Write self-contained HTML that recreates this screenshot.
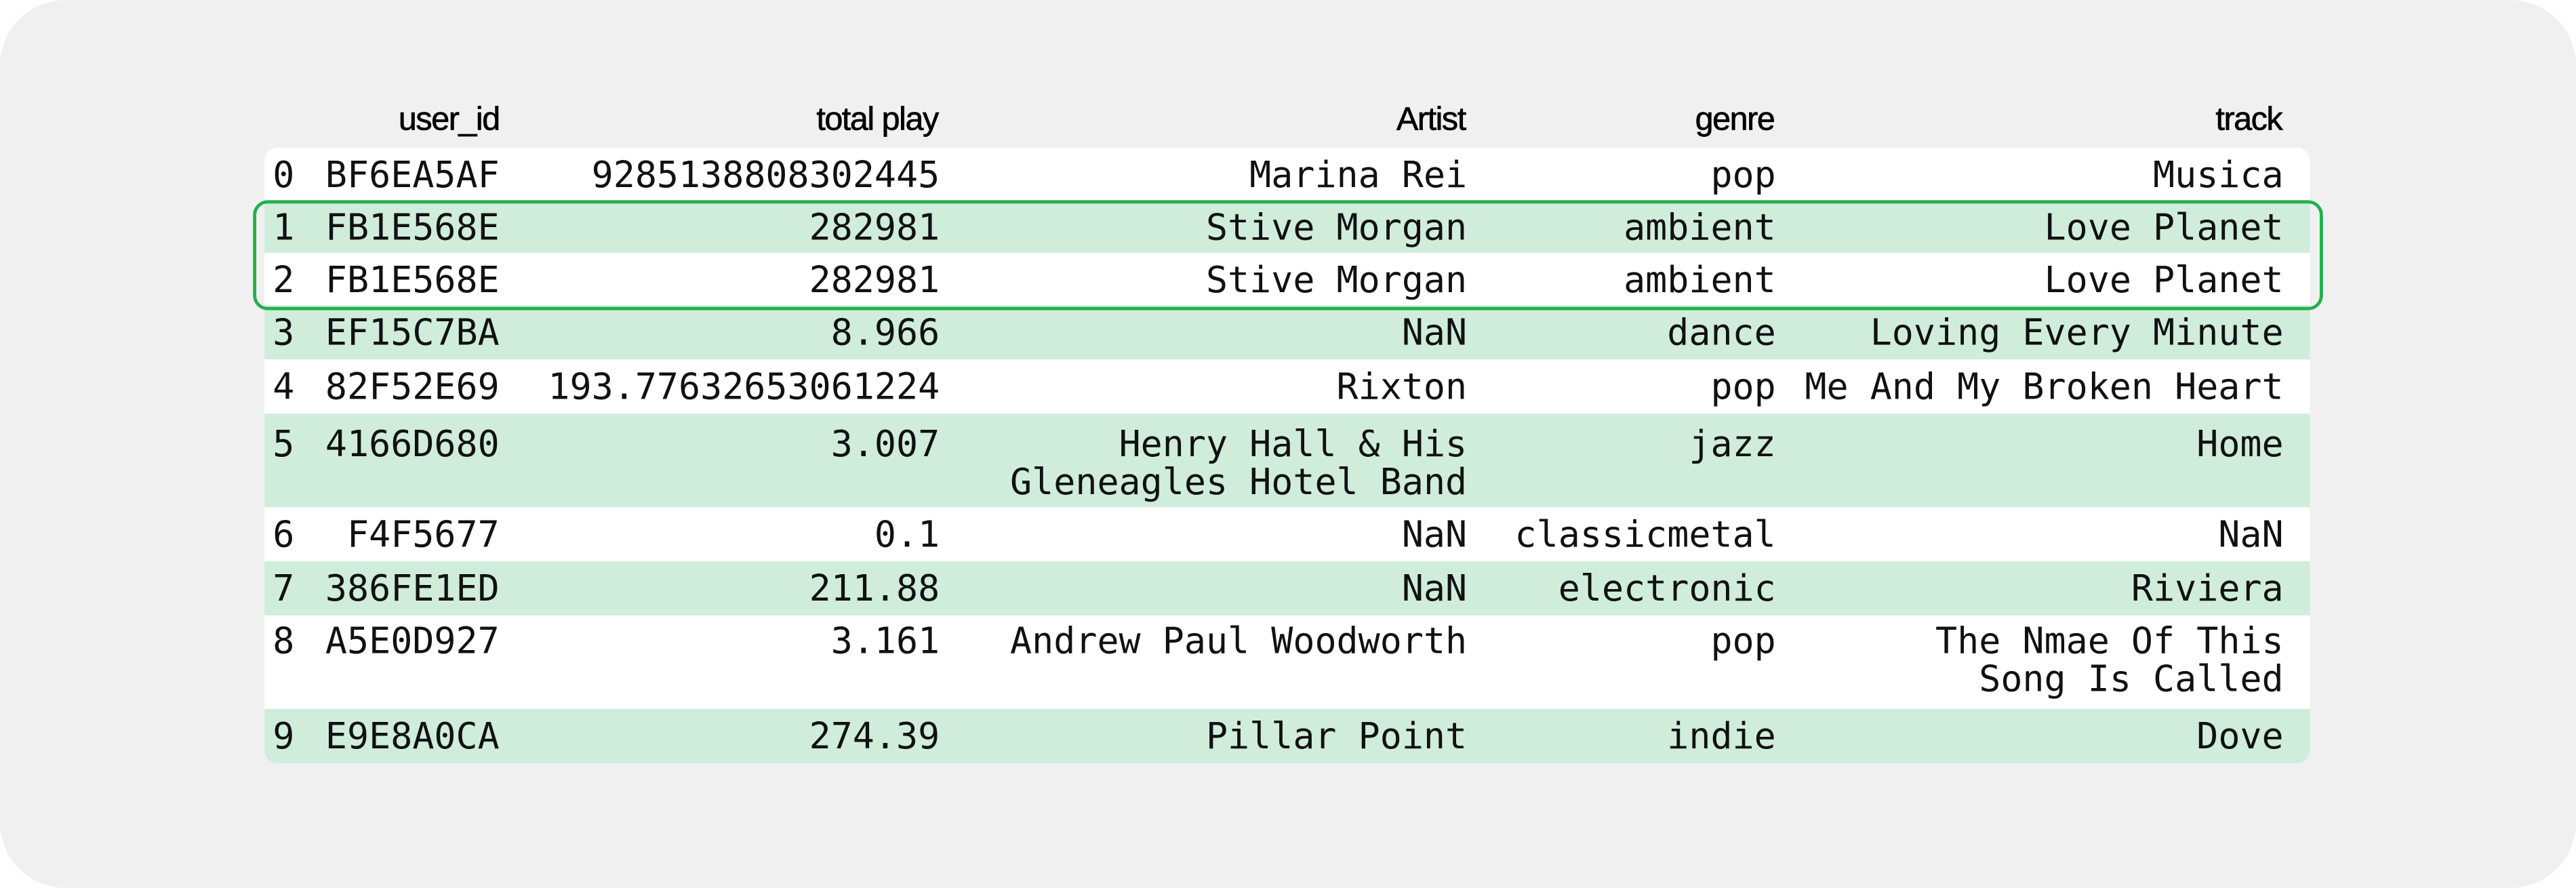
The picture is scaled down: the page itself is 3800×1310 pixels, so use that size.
<!DOCTYPE html>
<html><head><meta charset="utf-8"><style>
html,body{margin:0;padding:0;background:#fff;width:3800px;height:1310px;overflow:hidden}
#wrap{position:absolute;left:0;top:0;width:1568px;height:541px;transform:scale(2.42347,2.4214);transform-origin:0 0}
#card{position:absolute;left:0;top:0;width:1568px;height:541px;background:#f0f0f0;border-radius:40px}
.h{position:absolute;top:62px;font-family:"Liberation Sans",sans-serif;font-size:20px;letter-spacing:-0.6px;color:#000;text-align:right;line-height:22px;-webkit-text-stroke:0.3px #000}
.row{position:absolute;left:161px;width:1245px}
.g{background:#d0eddc}
.w{background:#fff}
.c{position:absolute;font-family:"DejaVu Sans Mono","Liberation Mono",monospace;font-size:22px;line-height:22.5px;color:#111;white-space:pre;top:7px}
.i{left:5px}
.u{left:19px;width:124px;text-align:right}
.t{left:149px;width:262px;text-align:right}
.a{left:419px;width:313px;text-align:right}
.ge{left:739px;width:181px;text-align:right}
.tr{left:929px;width:300px;text-align:right}
#box{position:absolute;left:154px;top:122px;width:1256px;height:63px;border:2px solid #22b14c;border-radius:9px}
</style></head><body>
<div id="wrap">
<div id="card"></div>
<div class="h" style="left:200px;width:104px">user_id</div>
<div class="h" style="left:420px;width:151px">total play</div>
<div class="h" style="left:700px;width:192px">Artist</div>
<div class="h" style="left:950px;width:130px">genre</div>
<div class="h" style="left:1250px;width:139px">track</div>

<div class="row w" style="top:90px;height:32px;border-radius:8px 8px 0 0"><div class="c i">0</div><div class="c u">BF6EA5AF</div><div class="c t">9285138808302445</div><div class="c a">Marina Rei</div><div class="c ge">pop</div><div class="c tr">Musica</div></div>
<div class="row g" style="top:122px;height:32px"><div class="c i">1</div><div class="c u">FB1E568E</div><div class="c t">282981</div><div class="c a">Stive Morgan</div><div class="c ge">ambient</div><div class="c tr">Love Planet</div></div>
<div class="row w" style="top:154px;height:32px"><div class="c i">2</div><div class="c u">FB1E568E</div><div class="c t">282981</div><div class="c a">Stive Morgan</div><div class="c ge">ambient</div><div class="c tr">Love Planet</div></div>
<div class="row g" style="top:186px;height:33px"><div class="c i">3</div><div class="c u">EF15C7BA</div><div class="c t">8.966</div><div class="c a">NaN</div><div class="c ge">dance</div><div class="c tr">Loving Every Minute</div></div>
<div class="row w" style="top:219px;height:33px"><div class="c i">4</div><div class="c u">82F52E69</div><div class="c t">193.77632653061224</div><div class="c a">Rixton</div><div class="c ge">pop</div><div class="c tr">Me And My Broken Heart</div></div>
<div class="row g" style="top:252px;height:57px"><div class="c i" style="top:9px">5</div><div class="c u" style="top:9px">4166D680</div><div class="c t" style="top:9px">3.007</div><div class="c a" style="top:9px">Henry Hall &amp; His
Gleneagles Hotel Band</div><div class="c ge" style="top:9px">jazz</div><div class="c tr" style="top:9px">Home</div></div>
<div class="row w" style="top:309px;height:33px"><div class="c i">6</div><div class="c u">F4F5677</div><div class="c t">0.1</div><div class="c a">NaN</div><div class="c ge">classicmetal</div><div class="c tr">NaN</div></div>
<div class="row g" style="top:342px;height:33px"><div class="c i">7</div><div class="c u">386FE1ED</div><div class="c t">211.88</div><div class="c a">NaN</div><div class="c ge">electronic</div><div class="c tr">Riviera</div></div>
<div class="row w" style="top:375px;height:57px"><div class="c i" style="top:6px">8</div><div class="c u" style="top:6px">A5E0D927</div><div class="c t" style="top:6px">3.161</div><div class="c a" style="top:6px">Andrew Paul Woodworth</div><div class="c ge" style="top:6px">pop</div><div class="c tr" style="top:6px">The Nmae Of This
Song Is Called</div></div>
<div class="row g" style="top:432px;height:33px;border-radius:0 0 8px 8px"><div class="c i">9</div><div class="c u">E9E8A0CA</div><div class="c t">274.39</div><div class="c a">Pillar Point</div><div class="c ge">indie</div><div class="c tr">Dove</div></div>

<div id="box"></div>
</div>
</body></html>
